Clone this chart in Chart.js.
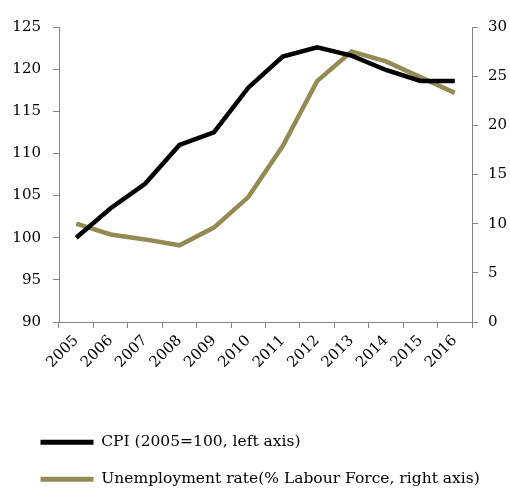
<!DOCTYPE html>
<html><head><meta charset="utf-8">
<script src="https://cdn.jsdelivr.net/npm/chart.js@4.4.1/dist/chart.umd.min.js"></script>
<style>html,body{margin:0;padding:0;background:#fff}#wrap{width:510px;height:488px}</style>
</head><body><div id="wrap"><canvas id="c" width="510" height="488"></canvas></div>
<script>
const years = ['2005','2006','2007','2008','2009','2010','2011','2012','2013','2014','2015','2016'];
const cpi = [100.0, 103.5, 106.4, 111.0, 112.5, 117.8, 121.5, 122.6, 121.6, 119.9, 118.6, 118.6];
const unemployment = [10.0, 8.9, 8.4, 7.8, 9.6, 12.7, 17.9, 24.5, 27.5, 26.5, 24.9, 23.3];
const cpiLabel = 'CPI (2005=100, left axis)';
const unempLabel = 'Unemployment rate(% Labour Force, right axis)';
const leftRange = [90, 125, 5];
const rightRange = [0, 30, 5];

const AXIS = '#868686';
const FONT = {family: 'DejaVu Serif', size: 15};
const LEGEND_FONT = {family: 'DejaVu Serif', size: 15.5};
Chart.defaults.font.family = FONT.family;
Chart.defaults.font.size = FONT.size;
Chart.defaults.color = '#000';

const legendShift = {
  id: 'legendShift',
  afterLayout(chart) { if (chart.legend) chart.legend.left = 19; }
};

new Chart(document.getElementById('c'), {
  type: 'line',
  data: {
    labels: years,
    datasets: [
      {label: cpiLabel, data: cpi, borderColor: '#000000', backgroundColor: '#000000', borderWidth: 4.5, pointRadius: 0, tension: 0, yAxisID: 'y'},
      {label: unempLabel, data: unemployment, borderColor: '#948A54', backgroundColor: '#948A54', borderWidth: 4.5, pointRadius: 0, tension: 0, yAxisID: 'y1'}
    ]
  },
  plugins: [legendShift],
  options: {
    responsive: false,
    animation: false,
    devicePixelRatio: 1,
    layout: {padding: {left: 0, right: 0, top: 27, bottom: 0}},
    plugins: {
      tooltip: {enabled: false},
      legend: {
        position: 'bottom',
        align: 'start',
        maxHeight: 75,
        labels: {
          boxWidth: 53, boxHeight: 5, padding: 21.5,
          font: LEGEND_FONT, color: '#000',
          generateLabels: (chart) => Chart.defaults.plugins.legend.labels.generateLabels(chart).map(l => Object.assign(l, {lineWidth: 0}))
        }
      }
    },
    scales: {
      x: {
        offset: true,
        grid: {display: true, offset: true, drawOnChartArea: false, tickLength: 6, color: AXIS, tickColor: AXIS},
        border: {color: AXIS, width: 1},
        ticks: {autoSkip: false, minRotation: 45, maxRotation: 45, padding: 4, font: FONT, color: '#000'},
        afterFit: (s) => { s.height = 91; }
      },
      y: {
        position: 'left',
        min: leftRange[0], max: leftRange[1],
        ticks: {stepSize: leftRange[2], padding: 12, font: FONT, color: '#000'},
        grid: {display: true, drawOnChartArea: false, tickLength: 6, color: AXIS, tickColor: AXIS},
        border: {color: AXIS, width: 1},
        afterFit: (s) => { s.width = 59; }
      },
      y1: {
        position: 'right',
        min: rightRange[0], max: rightRange[1],
        ticks: {stepSize: rightRange[2], padding: 10, font: FONT, color: '#000'},
        grid: {display: true, drawOnChartArea: false, tickLength: 6, color: AXIS, tickColor: AXIS},
        border: {color: AXIS, width: 1},
        afterFit: (s) => { s.width = 38; }
      }
    }
  }
});
</script></body></html>
